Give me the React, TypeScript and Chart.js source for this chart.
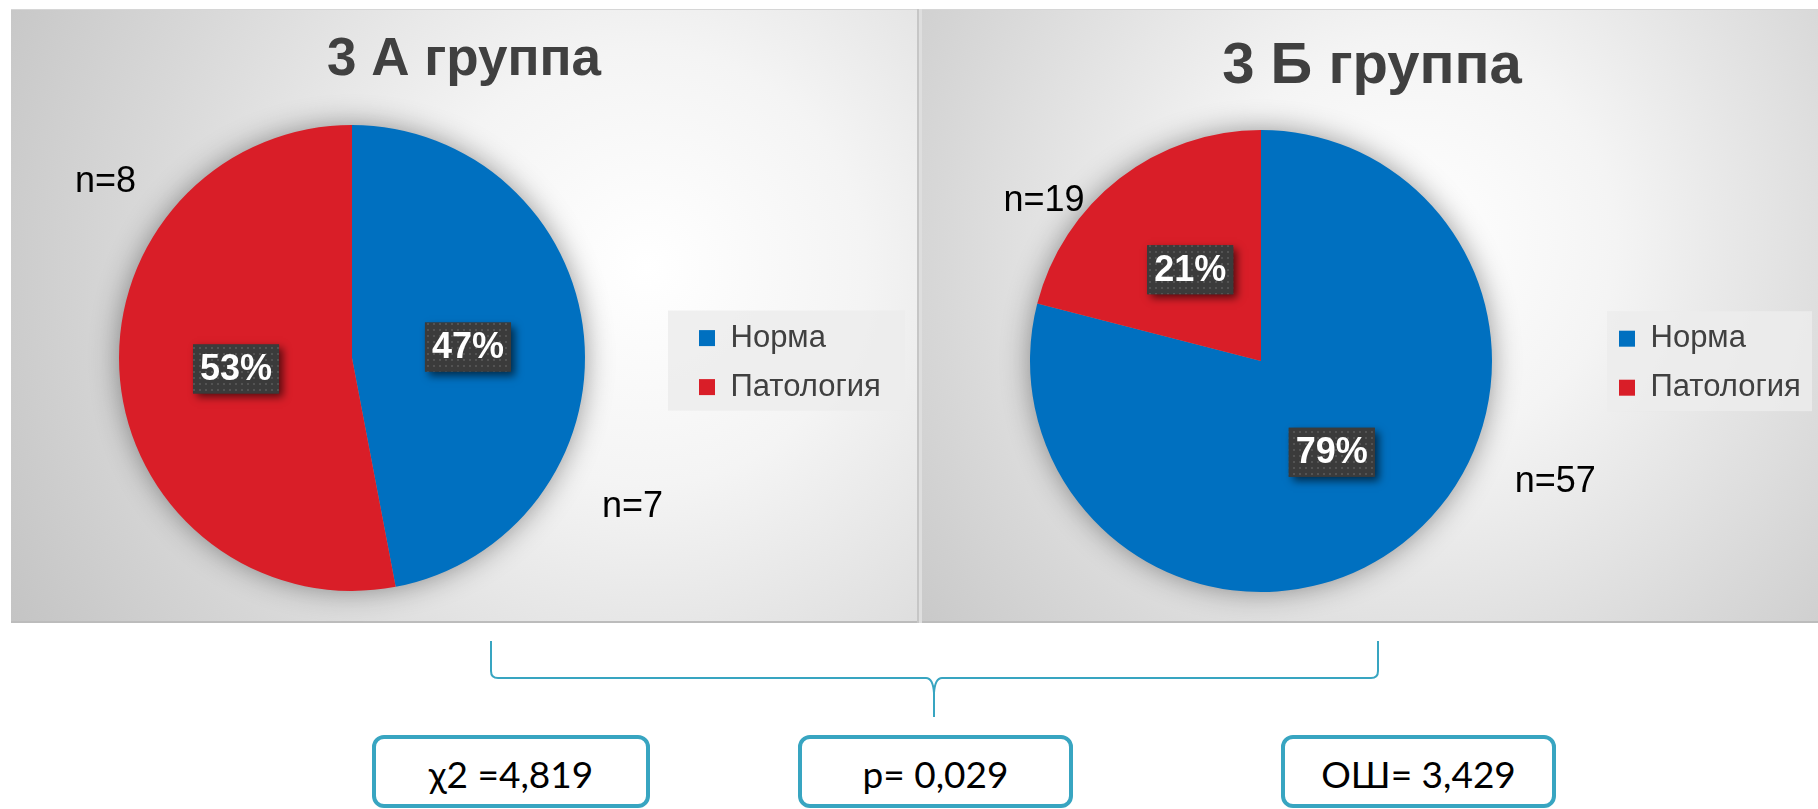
import React, { useEffect, useRef } from 'react';
import { Chart, registerables } from 'chart.js';

Chart.register(...registerables);

// ---------- data ----------
const CATEGORIES = ['Норма', 'Патология'];
const TITLES = ['3 А группа', '3 Б группа'];
const GROUP_A_PCT = [47, 53];
const GROUP_B_PCT = [79, 21];
const GROUP_A_N = [7, 8];
const GROUP_B_N = [57, 19];
const STAT_LABELS = ['χ2 =4,819', 'p= 0,029', 'ОШ= 3,429'];

// ---------- styles ----------
const COLORS = ['#0070c0', '#d91e28'];
const FONT = '"Liberation Sans", Arial, sans-serif';
const TEAL = '#38a5c1';

type PanelCfg = {
  left: number;
  width: number;
  title: string;
  titleSize: number;
  values: number[];
  counts: number[];
  radius: number;
  padding: { top: number; left: number; right: number; bottom: number };
  titlePad: { top: number; bottom: number };
  legendWidth: number;
  legendShift: number;
  nPos: number[][];
  grad: number[];
  bgL: number;
  bgR: number;
  rightEdge: boolean;
};

const PANELS: PanelCfg[] = [
  {
    left: 11, width: 908, title: TITLES[0], titleSize: 53, values: GROUP_A_PCT, counts: GROUP_A_N, radius: 233,
    padding: { top: 0, left: 12, right: 14, bottom: 27 }, titlePad: { top: 19.2, bottom: 28.2 },
    legendWidth: 224, legendShift: 6, nPos: [[1.204, 0.638], [-1.058, -0.755]], grad: [0.7, 0.42, 0.8],
    bgL: -13, bgR: 0, rightEdge: true,
  },
  {
    left: 919, width: 899, title: TITLES[1], titleSize: 58, values: GROUP_B_PCT, counts: GROUP_B_N, radius: 231,
    padding: { top: 0, left: 2, right: -5, bottom: 24 }, titlePad: { top: 23.2, bottom: 21.2 },
    legendWidth: 222, legendShift: 2, nPos: [[1.274, 0.525], [-0.939, -0.694]], grad: [0.55, 0.38, 0.75],
    bgL: 6, bgR: -11, rightEdge: false,
  },
];

const PANEL_TOP = 9;
const PANEL_HEIGHT = 614;

const STAT_BOXES = [
  { left: 372, width: 278 },
  { left: 798, width: 275 },
  { left: 1281, width: 275 },
];

function makePattern(ctx: CanvasRenderingContext2D) {
  const c = document.createElement('canvas');
  c.width = 6;
  c.height = 6;
  const p = c.getContext('2d')!;
  p.fillStyle = '#3b3b3b';
  p.fillRect(0, 0, 6, 6);
  p.fillStyle = '#535353';
  p.fillRect(2, 2, 2, 2);
  return ctx.createPattern(c, 'repeat');
}

function makeDecor(cfg: PanelCfg) {
  return {
    id: 'panelDecor',
    beforeLayout(chart: any) {
      const lg = chart.legend;
      if (lg && !lg.__wrapped) {
        const orig = lg.fit.bind(lg);
        lg.fit = () => {
          orig();
          lg.width = cfg.legendWidth;
        };
        lg.__wrapped = true;
      }
    },
    beforeDraw(chart: any) {
      const ctx: CanvasRenderingContext2D = chart.ctx;
      const W = chart.width;
      const H = chart.height;
      ctx.save();
      const g = ctx.createRadialGradient(W * cfg.grad[0], H * cfg.grad[1], 0, W * cfg.grad[0], H * cfg.grad[1], W * cfg.grad[2]);
      g.addColorStop(0, '#ffffff');
      g.addColorStop(0.3, '#f4f4f4');
      g.addColorStop(0.7, '#d8d8d8');
      g.addColorStop(1, '#c4c4c4');
      ctx.fillStyle = g;
      ctx.fillRect(0, 0, W, H);
      // edges
      ctx.fillStyle = '#d6d6d6';
      ctx.fillRect(0, 0, W, 1);
      ctx.fillStyle = '#bcbcbc';
      ctx.fillRect(0, H - 2, W, 2);
      if (cfg.rightEdge) {
        ctx.fillStyle = '#c6c6c6';
        ctx.fillRect(W - 2, 0, 2, H);
      } else {
        ctx.fillStyle = '#dedede';
        ctx.fillRect(0, 0, 3, H);
      }
      // legend background
      const lg = chart.legend;
      const hb = lg && lg.legendHitBoxes;
      if (hb && hb.length) {
        const first = hb[0];
        const last = hb[hb.length - 1];
        const x0 = lg.left + cfg.bgL;
        const x1 = lg.right + cfg.bgR;
        const y0 = first.top - 12;
        const y1 = last.top + last.height + 8;
        ctx.fillStyle = 'rgba(236,236,236,0.85)';
        ctx.fillRect(x0, y0, x1 - x0, y1 - y0);
      }
      ctx.restore();
    },
    beforeDatasetsDraw(chart: any) {
      const ctx: CanvasRenderingContext2D = chart.ctx;
      const arc = chart.getDatasetMeta(0).data[0];
      if (!arc) return;
      ctx.save();
      ctx.shadowColor = 'rgba(0,0,0,0.45)';
      ctx.shadowBlur = 30;
      ctx.fillStyle = '#999';
      ctx.beginPath();
      ctx.arc(arc.x, arc.y, arc.outerRadius - 2, 0, Math.PI * 2);
      ctx.fill();
      ctx.restore();
    },
    afterDatasetsDraw(chart: any) {
      const ctx: CanvasRenderingContext2D = chart.ctx;
      const meta = chart.getDatasetMeta(0);
      const data: number[] = chart.data.datasets[0].data;
      const total = data.reduce((a, b) => a + b, 0);
      const pattern = makePattern(ctx);
      meta.data.forEach((arc: any, i: number) => {
        const pos = arc.tooltipPosition();
        const txt = Math.round((data[i] / total) * 100) + '%';
        ctx.save();
        ctx.font = `bold 36px ${FONT}`;
        const tw = ctx.measureText(txt).width;
        const bw = tw + 14;
        const bh = 49;
        const x0 = pos.x - bw / 2;
        const y0 = pos.y - bh / 2;
        ctx.shadowColor = 'rgba(0,0,0,0.6)';
        ctx.shadowBlur = 8;
        ctx.shadowOffsetX = 4;
        ctx.shadowOffsetY = 4;
        ctx.fillStyle = '#3b3b3b';
        ctx.fillRect(x0, y0, bw, bh);
        ctx.shadowColor = 'transparent';
        ctx.shadowBlur = 0;
        ctx.shadowOffsetX = 0;
        ctx.shadowOffsetY = 0;
        if (pattern) {
          ctx.fillStyle = pattern;
          ctx.fillRect(x0, y0, bw, bh);
        }
        ctx.fillStyle = '#ffffff';
        ctx.textAlign = 'center';
        ctx.textBaseline = 'middle';
        ctx.fillText(txt, pos.x, pos.y + 1);
        ctx.restore();

        // n= labels
        const np = cfg.nPos[i];
        const nx = arc.x + np[0] * arc.outerRadius;
        const ny = arc.y + np[1] * arc.outerRadius;
        ctx.save();
        ctx.font = `36px ${FONT}`;
        ctx.fillStyle = '#000000';
        ctx.textAlign = 'center';
        ctx.textBaseline = 'middle';
        ctx.fillText('n=' + cfg.counts[i], nx, ny);
        ctx.restore();
      });
    },
  };
}

function PiePanel({ cfg }: { cfg: PanelCfg }) {
  const ref = useRef<HTMLCanvasElement | null>(null);
  useEffect(() => {
    if (!ref.current) return;
    const chart = new Chart(ref.current, {
      type: 'pie',
      data: {
        labels: CATEGORIES,
        datasets: [
          {
            data: cfg.values,
            backgroundColor: COLORS,
            borderWidth: 0,
            radius: cfg.radius,
          } as any,
        ],
      },
      options: {
        responsive: false,
        animation: false,
        layout: { padding: cfg.padding },
        plugins: {
          title: {
            display: true,
            text: cfg.title,
            color: '#404040',
            font: { family: FONT, size: cfg.titleSize, weight: 'bold' },
            padding: cfg.titlePad,
          },
          legend: {
            position: 'right',
            fullSize: false,
            align: 'center',
            title: {
              display: true,
              text: ' ',
              font: { family: FONT, size: cfg.legendShift },
              padding: { top: 1, bottom: 1 },
            },
            labels: {
              boxWidth: 16,
              boxHeight: 16,
              padding: 18,
              color: '#404040',
              font: { family: FONT, size: 31 },
            },
          },
          tooltip: { enabled: false },
        },
      } as any,
      plugins: [makeDecor(cfg)],
    });
    return () => chart.destroy();
  }, [cfg]);
  return (
    <canvas
      ref={ref}
      width={cfg.width}
      height={PANEL_HEIGHT}
      style={{ position: 'absolute', left: cfg.left, top: PANEL_TOP, width: cfg.width, height: PANEL_HEIGHT }}
    />
  );
}

export default function App() {
  return (
    <div style={{ position: 'absolute', left: 0, top: 0, width: 1818, height: 809, overflow: 'hidden', background: '#ffffff' }}>
      {PANELS.map((p, i) => (
        <PiePanel key={i} cfg={p} />
      ))}
      <svg width={1818} height={809} style={{ position: 'absolute', left: 0, top: 0, pointerEvents: 'none' }}>
        <path
          d="M 491 641 V 671 Q 491 678 498 678 H 926 Q 933 678 934 693 V 717 M 934 693 Q 935 678 942 678 H 1371 Q 1378 678 1378 671 V 641"
          fill="none"
          stroke={TEAL}
          strokeWidth={2}
        />
      </svg>
      {STAT_BOXES.map((b, i) => (
        <div
          key={i}
          style={{
            position: 'absolute',
            left: b.left,
            top: 735,
            width: b.width,
            height: 73,
            boxSizing: 'border-box',
            border: `4px solid ${TEAL}`,
            borderRadius: 12,
            display: 'flex',
            alignItems: 'center',
            justifyContent: 'center',
            fontFamily: 'Lato, "Open Sans", sans-serif',
            fontSize: 37,
            color: '#000',
            paddingTop: 4,
            background: '#fff',
          }}
        >
          {STAT_LABELS[i]}
        </div>
      ))}
    </div>
  );
}
